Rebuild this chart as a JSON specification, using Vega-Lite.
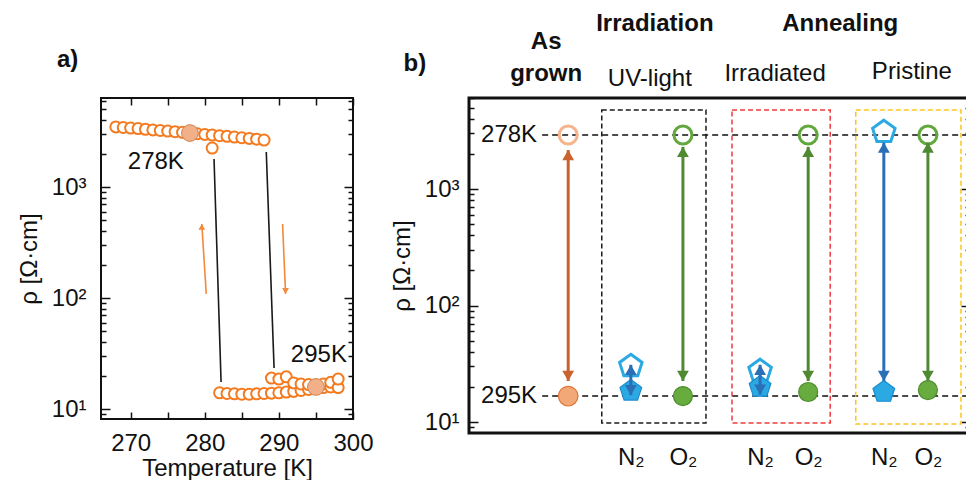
{
  "$schema": "https://vega.github.io/schema/vega-lite/v6.json",
  "padding": {"left": 16, "top": 10, "right": 0, "bottom": 0},
  "background": "white",
  "config": {
    "font": "Liberation Sans",
    "view": {"stroke": null},
    "axis": {"domain": false, "grid": false, "labelFont": "Liberation Sans", "labelFontSize": 24, "labelColor": "#111", "titleFont": "Liberation Sans", "titleFontSize": 24, "titleFontWeight": "normal", "titleColor": "#111", "tickColor": "#111", "tickWidth": 1.5}
  },
  "datasets": {
    "a_rho": [
      {"T": 268, "rho": 3480}, {"T": 269, "rho": 3440}, {"T": 270, "rho": 3400}, {"T": 271, "rho": 3360},
      {"T": 272, "rho": 3310}, {"T": 273, "rho": 3270}, {"T": 274, "rho": 3230}, {"T": 275, "rho": 3190},
      {"T": 276, "rho": 3150}, {"T": 277, "rho": 3110}, {"T": 278, "rho": 3070}, {"T": 279, "rho": 3020},
      {"T": 280, "rho": 2980}, {"T": 281, "rho": 2245}, {"T": 281, "rho": 2940}, {"T": 282, "rho": 2900}, {"T": 283, "rho": 2860},
      {"T": 284, "rho": 2820}, {"T": 285, "rho": 2780}, {"T": 286, "rho": 2740}, {"T": 287, "rho": 2700},
      {"T": 288, "rho": 2650},
      {"T": 282, "rho": 14.0}, {"T": 283, "rho": 13.8}, {"T": 284, "rho": 13.7}, {"T": 285, "rho": 13.6},
      {"T": 286, "rho": 13.6}, {"T": 287, "rho": 13.7}, {"T": 288, "rho": 13.8}, {"T": 289, "rho": 13.9},
      {"T": 289, "rho": 19.0}, {"T": 290, "rho": 14.0}, {"T": 290, "rho": 18.6}, {"T": 291, "rho": 14.2},
      {"T": 291, "rho": 19.5}, {"T": 292, "rho": 14.4}, {"T": 292, "rho": 17.2}, {"T": 293, "rho": 14.7},
      {"T": 293, "rho": 16.8}, {"T": 294, "rho": 15.0}, {"T": 294, "rho": 16.6}, {"T": 295, "rho": 15.3},
      {"T": 295, "rho": 16.5}, {"T": 296, "rho": 15.6}, {"T": 296, "rho": 16.8}, {"T": 297, "rho": 15.8},
      {"T": 297, "rho": 17.4}, {"T": 298, "rho": 15.6}, {"T": 298, "rho": 18.6}
    ],
    "a_ref": [
      {"T": 278, "rho": 3065, "label": "278K"},
      {"T": 295, "rho": 15.8, "label": "295K"}
    ],
    "a_labels": [
      {"T": 273.4, "rho": 1680, "text": "278K"},
      {"T": 295.4, "rho": 30.6, "text": "295K"}
    ],
    "a_panel": [
      {"T": 261.5, "rho": 13900, "text": "a)"}
    ],
    "a_jumps": [
      {"T1": 281.25, "rho1": 1788, "T2": 282.2, "rho2": 17.5},
      {"T1": 288.3, "rho1": 2067, "T2": 289.35, "rho2": 23.4}
    ],
    "a_arrows": [
      {"direction": "cooling", "T_tail": 280.2, "rho_tail": 109, "T_tip": 279.6, "rho_tip": 464},
      {"direction": "heating", "T_tail": 290.5, "rho_tail": 464, "T_tip": 290.9, "rho_tip": 109}
    ],
    "b_levels": [
      {"level": "278K", "rho": 2910, "label_x": 1.36, "x1": 1.46, "x2": 10},
      {"level": "295K", "rho": 16.7, "label_x": 1.36, "x1": 1.46, "x2": 10}
    ],
    "b_boxes": [
      {"treatment": "UV-light", "x1": 2.65, "x2": 4.73, "lo": 9.8, "hi": 4770},
      {"treatment": "Irradiated", "x1": 5.25, "x2": 7.21, "lo": 9.8, "hi": 4770},
      {"treatment": "Pristine", "x1": 7.72, "x2": 9.82, "lo": 9.6, "hi": 4770}
    ],
    "b_samples": [
      {"sample": "As grown", "gas": "none", "slot": 1.98, "T": 278, "rho": 2910},
      {"sample": "As grown", "gas": "none", "slot": 1.98, "T": 295, "rho": 16.7},
      {"sample": "UV-light", "gas": "N2", "slot": 3.23, "T": 278, "rho": 30.2},
      {"sample": "UV-light", "gas": "N2", "slot": 3.23, "T": 295, "rho": 18.5},
      {"sample": "UV-light", "gas": "O2", "slot": 4.27, "T": 278, "rho": 2910},
      {"sample": "UV-light", "gas": "O2", "slot": 4.27, "T": 295, "rho": 16.7},
      {"sample": "Irradiated", "gas": "N2", "slot": 5.81, "T": 278, "rho": 27.4},
      {"sample": "Irradiated", "gas": "N2", "slot": 5.81, "T": 295, "rho": 20.0},
      {"sample": "Irradiated", "gas": "O2", "slot": 6.77, "T": 278, "rho": 2910},
      {"sample": "Irradiated", "gas": "O2", "slot": 6.77, "T": 295, "rho": 18.1},
      {"sample": "Pristine", "gas": "N2", "slot": 8.28, "T": 278, "rho": 3085},
      {"sample": "Pristine", "gas": "N2", "slot": 8.28, "T": 295, "rho": 18.1},
      {"sample": "Pristine", "gas": "O2", "slot": 9.16, "T": 278, "rho": 2910},
      {"sample": "Pristine", "gas": "O2", "slot": 9.16, "T": 295, "rho": 18.8}
    ],
    "b_arrows": [
      {"gas": "none", "slot": 1.98, "lo": 22.5, "hi": 2160},
      {"gas": "N2", "slot": 3.23, "lo": 17.0, "hi": 31},
      {"gas": "O2", "slot": 4.27, "lo": 22.5, "hi": 2300},
      {"gas": "N2", "slot": 5.81, "lo": 17.2, "hi": 31},
      {"gas": "O2", "slot": 6.77, "lo": 22.5, "hi": 2300},
      {"gas": "N2", "slot": 8.28, "lo": 22.5, "hi": 2500},
      {"gas": "O2", "slot": 9.16, "lo": 22.5, "hi": 2500}
    ],
    "b_headers": [
      {"text": "b)", "level": "panel", "slot": -1.08, "rho": 11800},
      {"text": "As\ngrown", "level": "stage", "slot": 1.54, "rho": 18300},
      {"text": "Irradiation", "level": "stage", "slot": 3.71, "rho": 26100},
      {"text": "Annealing", "level": "stage", "slot": 7.41, "rho": 26100},
      {"text": "UV-light", "level": "sub", "slot": 3.61, "rho": 8790},
      {"text": "Irradiated", "level": "sub", "slot": 6.11, "rho": 9700},
      {"text": "Pristine", "level": "sub", "slot": 8.84, "rho": 10100}
    ]
  },
  "bounds": "flush",
  "spacing": 116,
  "hconcat": [
    {
      "width": 252,
      "height": 321,
      "view": {"stroke": "#111", "strokeWidth": 2},
      "resolve": {"axis": {"x": "independent", "y": "independent"}},
      "layer": [
        {
          "data": {"name": "a_jumps"},
          "mark": {"type": "rule", "color": "#1a1a1a", "strokeWidth": 1.6},
          "encoding": {
            "x": {"field": "T1", "type": "quantitative", "scale": {"domain": [266, 300], "nice": false, "zero": false},
              "axis": {"orient": "bottom", "values": [270, 275, 280, 285, 290, 295, 300], "labelExpr": "datum.value % 10 === 0 ? datum.label : ''", "tickSize": -7, "labelPadding": 19, "labelFlush": false, "labelOverlap": false, "title": "Temperature [K]", "titlePadding": 1}},
            "x2": {"field": "T2"},
            "y": {"field": "rho1", "type": "quantitative", "scale": {"type": "log", "domain": [8.13, 6340], "nice": false},
              "axis": {"orient": "left", "values": [9, 10, 20, 30, 40, 50, 60, 70, 80, 90, 100, 200, 300, 400, 500, 600, 700, 800, 900, 1000, 2000, 3000, 4000, 5000, 6000],
                "labelExpr": "datum.value === 10 ? '10¹' : datum.value === 100 ? '10²' : datum.value === 1000 ? '10³' : ''",
                "tickSize": {"condition": {"test": "datum.value === 10 || datum.value === 100 || datum.value === 1000", "value": -9}, "value": -5},
                "labelPadding": 24, "labelOverlap": false, "title": "ρ [Ω·cm]", "titlePadding": 10}},
            "y2": {"field": "rho2"}
          }
        },
        {
          "data": {"name": "a_arrows"},
          "mark": {"type": "rule", "color": "#f5893a", "strokeWidth": 1.6},
          "encoding": {
            "x": {"field": "T_tail", "type": "quantitative", "scale": {"domain": [266, 300], "nice": false, "zero": false},
              "axis": {"orient": "top", "values": [270, 275, 280, 285, 290, 295, 300], "labels": false, "tickSize": -7, "title": null}},
            "x2": {"field": "T_tip"},
            "y": {"field": "rho_tail", "type": "quantitative", "scale": {"type": "log", "domain": [8.13, 6340], "nice": false},
              "axis": {"orient": "right", "values": [9, 10, 20, 30, 40, 50, 60, 70, 80, 90, 100, 200, 300, 400, 500, 600, 700, 800, 900, 1000, 2000, 3000, 4000, 5000, 6000],
                "labels": false,
                "tickSize": {"condition": {"test": "datum.value === 10 || datum.value === 100 || datum.value === 1000", "value": -9}, "value": -5},
                "title": null}},
            "y2": {"field": "rho_tip"}
          }
        },
        {
          "data": {"name": "a_arrows"},
          "transform": [{"filter": "datum.direction === 'cooling'"}],
          "mark": {"type": "point", "shape": "triangle-up", "filled": true, "color": "#f5893a", "size": 45, "opacity": 1, "yOffset": 2.9},
          "encoding": {
            "x": {"field": "T_tip", "type": "quantitative", "scale": {"domain": [266, 300], "nice": false, "zero": false}, "axis": null},
            "y": {"field": "rho_tip", "type": "quantitative", "scale": {"type": "log", "domain": [8.13, 6340], "nice": false}, "axis": null}
          }
        },
        {
          "data": {"name": "a_arrows"},
          "transform": [{"filter": "datum.direction === 'heating'"}],
          "mark": {"type": "point", "shape": "triangle-down", "filled": true, "color": "#f5893a", "size": 45, "opacity": 1, "yOffset": -2.9},
          "encoding": {
            "x": {"field": "T_tip", "type": "quantitative", "scale": {"domain": [266, 300], "nice": false, "zero": false}, "axis": null},
            "y": {"field": "rho_tip", "type": "quantitative", "scale": {"type": "log", "domain": [8.13, 6340], "nice": false}, "axis": null}
          }
        },
        {
          "data": {"name": "a_rho"},
          "mark": {"type": "point", "shape": "circle", "size": 121, "filled": false, "fill": "white", "fillOpacity": 1, "stroke": "#f47a1f", "strokeWidth": 2, "opacity": 1},
          "encoding": {
            "x": {"field": "T", "type": "quantitative", "scale": {"domain": [266, 300], "nice": false, "zero": false}, "axis": null},
            "y": {"field": "rho", "type": "quantitative", "scale": {"type": "log", "domain": [8.13, 6340], "nice": false}, "axis": null}
          }
        },
        {
          "data": {"name": "a_ref"},
          "mark": {"type": "point", "shape": "circle", "size": 280, "filled": true, "fill": "#f2b088", "stroke": "#c98556", "strokeWidth": 1, "opacity": 1},
          "encoding": {
            "x": {"field": "T", "type": "quantitative", "scale": {"domain": [266, 300], "nice": false, "zero": false}, "axis": null},
            "y": {"field": "rho", "type": "quantitative", "scale": {"type": "log", "domain": [8.13, 6340], "nice": false}, "axis": null}
          }
        },
        {
          "data": {"name": "a_labels"},
          "mark": {"type": "text", "fontSize": 24, "color": "#111", "align": "center", "baseline": "middle"},
          "encoding": {
            "x": {"field": "T", "type": "quantitative", "scale": {"domain": [266, 300], "nice": false, "zero": false}, "axis": null},
            "y": {"field": "rho", "type": "quantitative", "scale": {"type": "log", "domain": [8.13, 6340], "nice": false}, "axis": null},
            "text": {"field": "text"}
          }
        },
        {
          "data": {"name": "a_panel"},
          "mark": {"type": "text", "fontSize": 24, "fontWeight": "bold", "color": "#111", "align": "center", "baseline": "middle"},
          "encoding": {
            "x": {"field": "T", "type": "quantitative", "scale": {"domain": [266, 300], "nice": false, "zero": false}, "axis": null},
            "y": {"field": "rho", "type": "quantitative", "scale": {"type": "log", "domain": [8.13, 6340], "nice": false}, "axis": null},
            "text": {"field": "text"}
          }
        }
      ]
    },
    {
      "width": 501,
      "height": 335,
      "view": {"stroke": "#111", "strokeWidth": 3},
      "resolve": {"axis": {"x": "independent", "y": "independent"}},
      "layer": [
        {
          "data": {"name": "b_levels"},
          "mark": {"type": "rule", "color": "#111", "strokeWidth": 1.5, "strokeDash": [6, 4]},
          "encoding": {
            "x": {"field": "x1", "type": "quantitative", "scale": {"domain": [0, 10], "nice": false, "zero": false},
              "axis": {"orient": "bottom", "values": [3.23, 4.27, 5.81, 6.77, 8.28, 9.16], "labelExpr": "indexof([3.23, 5.81, 8.28], datum.value) >= 0 ? 'N₂' : 'O₂'", "ticks": false, "labelPadding": 12, "labelFlush": false, "labelOverlap": false, "title": null}},
            "x2": {"field": "x2"},
            "y": {"field": "rho", "type": "quantitative", "scale": {"type": "log", "domain": [8.05, 6040], "nice": false},
              "axis": {"orient": "left", "values": [9, 10, 20, 30, 40, 50, 60, 70, 80, 90, 100, 200, 300, 400, 500, 600, 700, 800, 900, 1000, 2000, 3000, 4000, 5000, 6000],
                "labelExpr": "datum.value === 10 ? '10¹' : datum.value === 100 ? '10²' : datum.value === 1000 ? '10³' : ''",
                "tickSize": {"condition": {"test": "datum.value === 10 || datum.value === 100 || datum.value === 1000", "value": -9}, "value": -5},
                "labelPadding": 19, "labelOverlap": false, "title": "ρ [Ω·cm]", "titlePadding": 10}}
          }
        },
        {
          "data": {"name": "b_boxes"},
          "mark": {"type": "rect", "fill": null, "fillOpacity": 0, "strokeWidth": 1.5, "strokeDash": [5, 3]},
          "encoding": {
            "x": {"field": "x1", "type": "quantitative", "scale": {"domain": [0, 10], "nice": false, "zero": false}, "axis": null},
            "x2": {"field": "x2"},
            "y": {"field": "lo", "type": "quantitative", "scale": {"type": "log", "domain": [8.05, 6040], "nice": false},
              "axis": {"orient": "right", "values": [9, 10, 20, 30, 40, 50, 60, 70, 80, 90, 100, 200, 300, 400, 500, 600, 700, 800, 900, 1000, 2000, 3000, 4000, 5000, 6000],
                "labels": false,
                "tickSize": {"condition": {"test": "datum.value === 10 || datum.value === 100 || datum.value === 1000", "value": -9}, "value": -5},
                "title": null}},
            "y2": {"field": "hi"},
            "stroke": {"field": "treatment", "type": "nominal", "scale": {"domain": ["UV-light", "Irradiated", "Pristine"], "range": ["#1a1a1a", "#ef3b3b", "#fcc419"]}, "legend": null}
          }
        },
        {
          "data": {"name": "b_samples"},
          "transform": [{"filter": "datum.gas === 'none' && datum.T === 278"}],
          "mark": {"type": "point", "shape": "circle", "size": 324, "filled": false, "stroke": "#f5b48c", "strokeWidth": 3, "opacity": 1},
          "encoding": {
            "x": {"field": "slot", "type": "quantitative", "scale": {"domain": [0, 10], "nice": false, "zero": false}, "axis": null},
            "y": {"field": "rho", "type": "quantitative", "scale": {"type": "log", "domain": [8.05, 6040], "nice": false}, "axis": null}
          }
        },
        {
          "data": {"name": "b_samples"},
          "transform": [{"filter": "datum.gas === 'none' && datum.T === 295"}],
          "mark": {"type": "point", "shape": "circle", "size": 380, "filled": true, "fill": "#f3a878", "stroke": "#e0773a", "strokeWidth": 1.2, "opacity": 1},
          "encoding": {
            "x": {"field": "slot", "type": "quantitative", "scale": {"domain": [0, 10], "nice": false, "zero": false}, "axis": null},
            "y": {"field": "rho", "type": "quantitative", "scale": {"type": "log", "domain": [8.05, 6040], "nice": false}, "axis": null}
          }
        },
        {
          "data": {"name": "b_samples"},
          "transform": [{"filter": "datum.gas === 'O2' && datum.T === 278"}],
          "mark": {"type": "point", "shape": "circle", "size": 324, "filled": false, "stroke": "#62a83e", "strokeWidth": 3, "opacity": 1},
          "encoding": {
            "x": {"field": "slot", "type": "quantitative", "scale": {"domain": [0, 10], "nice": false, "zero": false}, "axis": null},
            "y": {"field": "rho", "type": "quantitative", "scale": {"type": "log", "domain": [8.05, 6040], "nice": false}, "axis": null}
          }
        },
        {
          "data": {"name": "b_samples"},
          "transform": [{"filter": "datum.gas === 'O2' && datum.T === 295"}],
          "mark": {"type": "point", "shape": "circle", "size": 361, "filled": true, "fill": "#68ab3f", "stroke": "#4d8e2c", "strokeWidth": 1.2, "opacity": 1},
          "encoding": {
            "x": {"field": "slot", "type": "quantitative", "scale": {"domain": [0, 10], "nice": false, "zero": false}, "axis": null},
            "y": {"field": "rho", "type": "quantitative", "scale": {"type": "log", "domain": [8.05, 6040], "nice": false}, "axis": null}
          }
        },
        {
          "data": {"name": "b_samples"},
          "transform": [{"filter": "datum.gas === 'N2' && datum.T === 278"}],
          "mark": {"type": "point", "shape": "M0,-1L0.951,-0.309L0.588,0.809L-0.588,0.809L-0.951,-0.309Z", "size": 560, "filled": false, "stroke": "#2aa9e2", "strokeWidth": 3, "opacity": 1},
          "encoding": {
            "x": {"field": "slot", "type": "quantitative", "scale": {"domain": [0, 10], "nice": false, "zero": false}, "axis": null},
            "y": {"field": "rho", "type": "quantitative", "scale": {"type": "log", "domain": [8.05, 6040], "nice": false}, "axis": null}
          }
        },
        {
          "data": {"name": "b_samples"},
          "transform": [{"filter": "datum.gas === 'N2' && datum.T === 295"}],
          "mark": {"type": "point", "shape": "M0,-1L0.951,-0.309L0.588,0.809L-0.588,0.809L-0.951,-0.309Z", "size": 520, "filled": true, "fill": "#2aa9e2", "stroke": "#1b8ccf", "strokeWidth": 1.2, "opacity": 1},
          "encoding": {
            "x": {"field": "slot", "type": "quantitative", "scale": {"domain": [0, 10], "nice": false, "zero": false}, "axis": null},
            "y": {"field": "rho", "type": "quantitative", "scale": {"type": "log", "domain": [8.05, 6040], "nice": false}, "axis": null}
          }
        },
        {
          "data": {"name": "b_arrows"},
          "mark": {"type": "rule", "strokeWidth": 3},
          "encoding": {
            "x": {"field": "slot", "type": "quantitative", "scale": {"domain": [0, 10], "nice": false, "zero": false}, "axis": null},
            "y": {"field": "lo", "type": "quantitative", "scale": {"type": "log", "domain": [8.05, 6040], "nice": false}, "axis": null},
            "y2": {"field": "hi"},
            "color": {"field": "gas", "type": "nominal", "scale": {"domain": ["none", "N2", "O2"], "range": ["#c9622b", "#2b6fb6", "#4f8a33"]}, "legend": null}
          }
        },
        {
          "data": {"name": "b_arrows"},
          "mark": {"type": "point", "shape": "triangle-up", "filled": true, "size": 140, "opacity": 1, "yOffset": 5},
          "encoding": {
            "x": {"field": "slot", "type": "quantitative", "scale": {"domain": [0, 10], "nice": false, "zero": false}, "axis": null},
            "y": {"field": "hi", "type": "quantitative", "scale": {"type": "log", "domain": [8.05, 6040], "nice": false}, "axis": null},
            "color": {"field": "gas", "type": "nominal", "scale": {"domain": ["none", "N2", "O2"], "range": ["#c9622b", "#2b6fb6", "#4f8a33"]}, "legend": null}
          }
        },
        {
          "data": {"name": "b_arrows"},
          "mark": {"type": "point", "shape": "triangle-down", "filled": true, "size": 140, "opacity": 1, "yOffset": -5},
          "encoding": {
            "x": {"field": "slot", "type": "quantitative", "scale": {"domain": [0, 10], "nice": false, "zero": false}, "axis": null},
            "y": {"field": "lo", "type": "quantitative", "scale": {"type": "log", "domain": [8.05, 6040], "nice": false}, "axis": null},
            "color": {"field": "gas", "type": "nominal", "scale": {"domain": ["none", "N2", "O2"], "range": ["#c9622b", "#2b6fb6", "#4f8a33"]}, "legend": null}
          }
        },
        {
          "data": {"name": "b_levels"},
          "mark": {"type": "text", "fontSize": 24, "color": "#111", "align": "right", "baseline": "middle"},
          "encoding": {
            "x": {"field": "label_x", "type": "quantitative", "scale": {"domain": [0, 10], "nice": false, "zero": false}, "axis": null},
            "y": {"field": "rho", "type": "quantitative", "scale": {"type": "log", "domain": [8.05, 6040], "nice": false}, "axis": null},
            "text": {"field": "level"}
          }
        },
        {
          "data": {"name": "b_headers"},
          "transform": [{"filter": "datum.level !== 'sub'"}],
          "mark": {"type": "text", "fontSize": 24, "fontWeight": "bold", "color": "#111", "align": "center", "baseline": "middle", "lineBreak": "\n", "lineHeight": 32},
          "encoding": {
            "x": {"field": "slot", "type": "quantitative", "scale": {"domain": [0, 10], "nice": false, "zero": false}, "axis": null},
            "y": {"field": "rho", "type": "quantitative", "scale": {"type": "log", "domain": [8.05, 6040], "nice": false}, "axis": null},
            "text": {"field": "text"}
          }
        },
        {
          "data": {"name": "b_headers"},
          "transform": [{"filter": "datum.level === 'sub'"}],
          "mark": {"type": "text", "fontSize": 24, "color": "#111", "align": "center", "baseline": "middle"},
          "encoding": {
            "x": {"field": "slot", "type": "quantitative", "scale": {"domain": [0, 10], "nice": false, "zero": false}, "axis": null},
            "y": {"field": "rho", "type": "quantitative", "scale": {"type": "log", "domain": [8.05, 6040], "nice": false}, "axis": null},
            "text": {"field": "text"}
          }
        }
      ]
    }
  ]
}
